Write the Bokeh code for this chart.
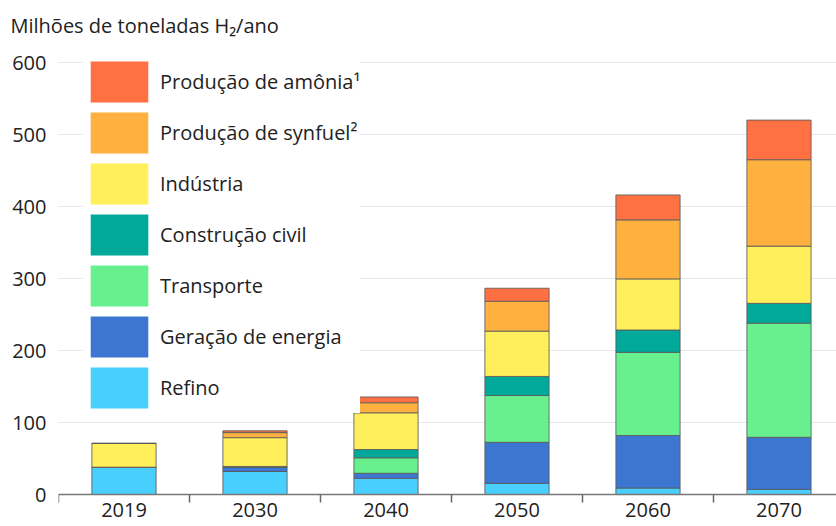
from bokeh.plotting import figure
from bokeh.models import ColumnDataSource, FixedTicker, Legend, LegendItem, Range1d
from bokeh.embed import file_html
from bokeh.resources import INLINE

# ---- data (Mt H2 / year) ----
years = ["2019", "2030", "2040", "2050", "2060", "2070"]
refino = [38, 32, 22.5, 15.5, 9, 7]
geracao = [0, 6, 7, 57, 73, 72.5]
transporte = [0, 0, 21.5, 65, 115.5, 158.5]
construcao = [0, 1, 11.5, 26.5, 31, 27.5]
industria = [33, 40, 51, 63, 71, 79.5]
synfuel = [0, 7, 14, 41.5, 82, 120]
amonia = [0, 2.5, 8, 18, 34.5, 55]

series_keys = ["refino", "geracao", "transporte", "construcao", "industria", "synfuel", "amonia"]
series_labels = ["Refino", "Geração de energia", "Transporte", "Construção civil",
                 "Indústria", "Produção de synfuel²", "Produção de amônia¹"]
colors = ["#49CFFD", "#3D76D1", "#68F08E", "#00A99A", "#FFEF5A", "#FFB13F", "#FF7043"]
y_ticks = [0, 100, 200, 300, 400, 500, 600]
title_text = "Milhões de toneladas H₂/ano"

FONT = "Open Sans"

xpos = [i + 0.5 for i in range(len(years))]
src = ColumnDataSource(dict(x=xpos, refino=refino, geracao=geracao, transporte=transporte,
                            construcao=construcao, industria=industria, synfuel=synfuel,
                            amonia=amonia))

# frame reaches the bottom of the canvas; the x axis sits at y = 0 inside it
p = figure(width=836, height=526, output_backend="svg", toolbar_location=None,
           x_range=Range1d(0, 5.939), y_range=Range1d(-44.4, 625),
           min_border_left=58, min_border_right=0, min_border_top=44, min_border_bottom=0,
           outline_line_color=None, background_fill_color="white")

p.vbar_stack(series_keys, x="x", width=0.49, source=src, fill_color=colors,
             line_color="#5a5a5a", line_width=1, line_alpha=0.85)

# legend swatches (borderless, not drawn in the plot area)
items = []
for key, lab, col in zip(series_keys, series_labels, colors):
    r = p.vbar(x=[float("nan")], top=[float("nan")], width=0.5, fill_color=col, line_color=None)
    items.append(LegendItem(label=lab, renderers=[r]))
items = items[::-1]

legend = Legend(items=items, location=(25, 113), glyph_width=72, glyph_height=51,
                spacing=0, label_standoff=5, padding=0, margin=0,
                border_line_color=None, background_fill_color="white", background_fill_alpha=1,
                label_text_font=FONT, label_text_font_size="20px", label_text_color="#222222",
                label_height=51)
p.add_layout(legend, "center")

# title
p.title.text = title_text
p.title.text_font = FONT
p.title.text_font_size = "20px"
p.title.text_font_style = "normal"
p.title.text_color = "#222222"
p.title.align = "left"
p.title.offset = -48
p.title.standoff = 11

# y axis
p.yaxis.ticker = FixedTicker(ticks=y_ticks)
p.yaxis.axis_line_color = None
p.yaxis.major_tick_line_color = None
p.yaxis.minor_tick_line_color = None
p.yaxis.major_tick_out = 0
p.yaxis.major_label_standoff = 12
p.yaxis.major_label_text_font = FONT
p.yaxis.major_label_text_font_size = "20px"
p.yaxis.major_label_text_color = "#222222"

# x axis: labels at bar centres, tick marks at category boundaries
p.xaxis.fixed_location = 0
p.xaxis.ticker = FixedTicker(ticks=xpos, minor_ticks=list(range(len(years))))
p.xaxis.major_label_overrides = {x: y for x, y in zip(xpos, years)}
p.xaxis.major_tick_line_color = None
p.xaxis.major_tick_out = 0
p.xaxis.major_tick_in = 0
p.xaxis.minor_tick_in = 0
p.xaxis.minor_tick_out = 8
p.xaxis.minor_tick_line_color = "#666666"
p.xaxis.minor_tick_line_width = 1.5
p.xaxis.axis_line_color = "#777777"
p.xaxis.axis_line_width = 1.5
p.xaxis.major_label_standoff = 0
p.xaxis.major_label_text_font = FONT
p.xaxis.major_label_text_font_size = "20px"
p.xaxis.major_label_text_color = "#222222"

p.xgrid.grid_line_color = None
p.ygrid.grid_line_color = "#e8e8e8"
p.ygrid.grid_line_width = 1

open("out.html", "w").write(file_html(p, INLINE))
